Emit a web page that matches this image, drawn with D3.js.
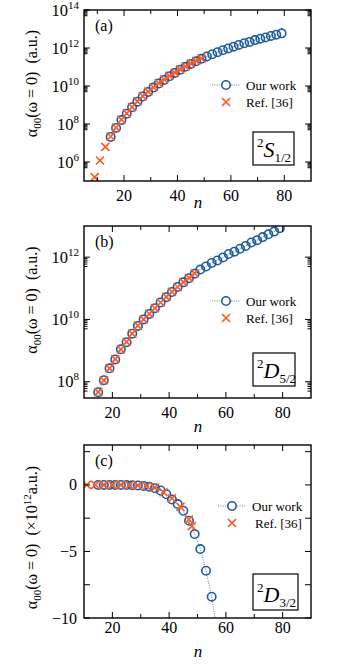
<!DOCTYPE html>
<html>
<head>
<meta charset="utf-8">
<script src="https://cdn.jsdelivr.net/npm/d3@7"></script>
<style>
  body { margin: 0; background: #fff; }
  svg { display: block; }
  svg text { font-family: "Liberation Serif", "Times New Roman", serif; }
</style>
</head>
<body>
<div id="chart"></div>
<script>
// (a) 2S1/2
const nA = [15, 17, 19, 21, 23, 25, 27, 29, 31, 33, 35, 37, 39, 41, 43, 45, 47, 49, 51, 53, 55, 57, 59, 61, 63, 65, 67, 69, 71, 73, 75, 77, 79];
const oursA = [2.1e7, 6.2e7, 1.6e8, 3.5e8, 7.6e8, 1.5e9, 2.8e9, 4.9e9, 8.3e9, 1.35e10, 2.1e10, 3.3e10, 4.9e10, 7.2e10, 1.02e11, 1.45e11, 2.0e11, 2.7e11, 3.6e11, 4.7e11, 6.0e11, 7.6e11, 9.5e11, 1.17e12, 1.45e12, 1.78e12, 2.1e12, 2.6e12, 3.1e12, 3.6e12, 4.3e12, 5.0e12, 5.9e12];
const nRefA = [9, 11, 13, 15, 17, 19, 21, 23, 25, 27, 29, 31, 33, 35, 37, 39, 41, 43, 45, 47, 49];
const refA = [1.6e5, 1.2e6, 6.2e6, 2.2e7, 6.4e7, 1.7e8, 3.6e8, 7.8e8, 1.55e9, 2.9e9, 5.1e9, 8.6e9, 1.4e10, 2.2e10, 3.4e10, 5.1e10, 7.5e10, 1.06e11, 1.5e11, 2.1e11, 2.8e11];

// (b) 2D5/2
const nB = [15, 17, 19, 21, 23, 25, 27, 29, 31, 33, 35, 37, 39, 41, 43, 45, 47, 49, 51, 53, 55, 57, 59, 61, 63, 65, 67, 69, 71, 73, 75, 77, 79];
const oursB = [4.6e7, 1.12e8, 2.7e8, 5.2e8, 1.1e9, 1.86e9, 3.5e9, 6.2e9, 1.0e10, 1.5e10, 2.3e10, 3.5e10, 5.2e10, 7.6e10, 1.1e11, 1.55e11, 2.1e11, 2.95e11, 4.0e11, 5.0e11, 6.5e11, 7.8e11, 9.8e11, 1.26e12, 1.5e12, 1.86e12, 2.3e12, 2.95e12, 3.5e12, 4.4e12, 5.4e12, 6.6e12, 8.5e12];
const nRefB = [15, 17, 19, 21, 23, 25, 27, 29, 31, 33, 35, 37, 39, 41, 43, 45, 47, 49];
const refB = [4.6e7, 1.1e8, 2.7e8, 5.3e8, 1.1e9, 1.9e9, 3.5e9, 6.3e9, 1.0e10, 1.5e10, 2.3e10, 3.5e10, 5.3e10, 7.7e10, 1.1e11, 1.57e11, 2.15e11, 3.0e11];

// (c) 2D3/2, units of 1e12 a.u.
const nC = [15, 17, 19, 21, 23, 25, 27, 29, 31, 33, 35, 37, 39, 41, 43, 45, 47, 49, 51, 53, 55, 57];
const oursC = [0, 0, 0, 0, 0, -0.01, -0.02, -0.04, -0.08, -0.14, -0.25, -0.42, -0.7, -1.1, -1.44, -1.94, -2.69, -3.69, -4.82, -6.45, -8.4, -11.2];
const nRefC = [11, 14, 17, 20, 23, 26, 29, 32, 35, 38, 41, 44, 47, 48];
const refC = [0, 0, 0, 0, 0, -0.01, -0.03, -0.08, -0.2, -0.55, -1.0, -1.65, -2.6, -3.09];

// axes
const xTicks = [10, 20, 30, 40, 50, 60, 70, 80];
const xLabels = [20, 40, 60, 80];
const expA = [6, 8, 10, 12, 14];
const expB = [8, 10, 12];
const yMajorC = [-10, -5, 0];
const yMinorC = [-7.5, -2.5, 2.5];

const W = 349, H = 669;
const blue = "#1c5c9f", red = "#ff5a26";
const svg = d3.select("#chart").append("svg")
  .attr("width", W).attr("height", H)
  .attr("font-family", "Liberation Serif, serif");

const panels = [
  { id: "a", tag: "(a)", top: 10, bottom: 181, xDomain: [5, 90], log: true, yDomain: [1e5, 1e14], exps: expA,
    n: nA, ours: oursA, nRef: nRefA, ref: refA, state: ["S", "1/2"], unit: "(a.u.)",
    legendY: 85, box: [253, 132, 41, 33], xLabelY: 200.5, nY: 208 },
  { id: "b", tag: "(b)", top: 226, bottom: 398, xDomain: [10, 90], log: true, yDomain: [3e7, 1e13], exps: expB,
    n: nB, ours: oursB, nRef: nRefB, ref: refB, state: ["D", "5/2"], unit: "(a.u.)",
    legendY: 301, box: [253, 353, 42, 33], xLabelY: 418, nY: 432 },
  { id: "c", tag: "(c)", top: 445, bottom: 618, xDomain: [10, 90], log: false, yDomain: [-10, 3],
    n: nC, ours: oursC, nRef: nRefC, ref: refC, state: ["D", "3/2"], unit: "c",
    legendY: 506, box: [253, 574, 45, 36], xLabelY: 632.5, nY: 657 }
];

const crossPath = s => `M${-s},${-s}L${s},${s}M${-s},${s}L${s},${-s}`;

panels.forEach(p => {
  const g = svg.append("g");
  const x = d3.scaleLinear().domain(p.xDomain).range([84, 311]);
  const y = (p.log ? d3.scaleLog() : d3.scaleLinear()).domain(p.yDomain).range([p.bottom, p.top]);

  g.append("clipPath").attr("id", "clip-" + p.id)
    .append("rect").attr("x", 84).attr("y", p.top).attr("width", 227).attr("height", p.bottom - p.top);
  const plot = g.append("g").attr("clip-path", `url(#clip-${p.id})`);

  const ours = p.n.map((n, i) => ({ n, v: p.ours[i] }));
  const ref = p.nRef.map((n, i) => ({ n, v: p.ref[i] }));

  plot.append("path")
    .datum(ours)
    .attr("fill", "none")
    .attr("stroke", blue)
    .attr("stroke-width", 0.8)
    .attr("stroke-dasharray", "1,1.4")
    .attr("d", d3.line().x(d => x(d.n)).y(d => y(d.v)));

  plot.append("g").selectAll("circle").data(ours).join("circle")
    .attr("cx", d => x(d.n)).attr("cy", d => y(d.v)).attr("r", 4.2)
    .attr("fill", "none").attr("stroke", blue).attr("stroke-width", 1.6);

  plot.append("g").selectAll("path").data(ref).join("path")
    .attr("transform", d => `translate(${x(d.n)},${y(d.v)})`)
    .attr("d", crossPath(4))
    .attr("stroke", red).attr("stroke-width", 1.7).attr("fill", "none");

  // frame
  g.append("rect").attr("x", 84).attr("y", p.top).attr("width", 227).attr("height", p.bottom - p.top)
    .attr("fill", "none").attr("stroke", "#000").attr("stroke-width", 1.4);

  const tk = g.append("g").attr("stroke", "#000").attr("stroke-width", 1);
  xTicks.filter(t => t > p.xDomain[0] && t < p.xDomain[1]).forEach(t => {
    const len = t % 20 === 0 ? 6 : 4;
    tk.append("line").attr("x1", x(t)).attr("x2", x(t)).attr("y1", p.bottom).attr("y2", p.bottom - len);
    tk.append("line").attr("x1", x(t)).attr("x2", x(t)).attr("y1", p.top).attr("y2", p.top + len);
  });
  const yTick = (v, len) => {
    const yy = y(v);
    if (yy < p.top - 0.5 || yy > p.bottom + 0.5) return;
    tk.append("line").attr("x1", 84).attr("x2", 84 + len).attr("y1", yy).attr("y2", yy);
    tk.append("line").attr("x1", 311).attr("x2", 311 - len).attr("y1", yy).attr("y2", yy);
  };

  g.append("g").selectAll("text").data(xLabels).join("text")
    .attr("x", d => x(d)).attr("y", p.xLabelY)
    .attr("text-anchor", "middle").attr("font-size", 16).text(d => d);

  g.append("text").attr("x", 198).attr("y", p.nY).attr("text-anchor", "middle")
    .attr("font-size", 17).attr("font-style", "italic").text("n");

  if (p.log) {
    p.exps.forEach(e => {
      yTick(Math.pow(10, e), 6);
      [5, 6, 7, 8, 9].forEach(m => yTick(m * Math.pow(10, e - 1), 3.5));
      const yy = y(Math.pow(10, e));
      if (yy < p.top - 1 || yy > p.bottom + 1) return;
      const t = g.append("text").attr("x", 79).attr("y", yy + 5.5)
        .attr("text-anchor", "end").attr("font-size", 16.5);
      t.append("tspan").text("10");
      t.append("tspan").attr("dy", -7).attr("font-size", 11).text(e);
    });
  } else {
    yMajorC.forEach(v => yTick(v, 6));
    yMinorC.forEach(v => yTick(v, 6));
    g.append("g").selectAll("text").data(yMajorC).join("text")
      .attr("x", 77).attr("y", d => y(d) + 5.5)
      .attr("text-anchor", "end").attr("font-size", 16)
      .text(d => d < 0 ? "\u2212" + Math.abs(d) : d);
  }

  // y title
  const cy = (p.top + p.bottom) / 2 - (p.log ? 12 : -6);
  const yt = g.append("text").attr("transform", `translate(37,${cy}) rotate(-90)`)
    .attr("text-anchor", "middle").attr("font-size", 16);
  yt.append("tspan").text("\u03b1");
  yt.append("tspan").attr("dy", 4).attr("font-size", 11).text("00");
  yt.append("tspan").attr("dy", -4).text("(\u03c9\u00a0=\u00a00)\u00a0\u00a0(");
  if (p.unit === "c") {
    yt.append("tspan").text("\u00d710");
    yt.append("tspan").attr("dy", -6).attr("font-size", 11).text("12");
    yt.append("tspan").attr("dy", 6).text("a.u.)");
  } else {
    yt.append("tspan").text("a.u.)");
  }

  // panel tag
  g.append("text").attr("x", 95).attr("y", p.top + 21).attr("font-size", 16).text(p.tag);

  // legend
  const lg = g.append("g");
  const ly = p.legendY, lx = p.id === "c" ? 232 : 226;
  lg.append("line").attr("x1", lx - 14).attr("x2", lx + 14).attr("y1", ly).attr("y2", ly)
    .attr("stroke", blue).attr("stroke-width", 0.8).attr("stroke-dasharray", "1,1.4");
  lg.append("circle").attr("cx", lx).attr("cy", ly).attr("r", 4.2)
    .attr("fill", "#fff").attr("stroke", blue).attr("stroke-width", 1.6);
  lg.append("text").attr("x", lx + 20).attr("y", ly + 4.5).attr("font-size", 13).text("Our work");
  lg.append("path").attr("transform", `translate(${lx},${ly + 17})`).attr("d", crossPath(4))
    .attr("stroke", red).attr("stroke-width", 1.7);
  lg.append("text").attr("x", lx + (p.id === "c" ? 23 : 20)).attr("y", ly + 21.5).attr("font-size", 13).text("Ref. [36]");

  // state box
  const [bx, by, bw, bh] = p.box;
  g.append("rect").attr("x", bx).attr("y", by).attr("width", bw).attr("height", bh)
    .attr("fill", "#fff").attr("stroke", "#000").attr("stroke-width", 1.2);
  const st = g.append("text").attr("x", bx + 4).attr("y", by + bh - 8).attr("font-size", 22);
  st.append("tspan").attr("font-size", 13).attr("dy", -10).text("2");
  st.append("tspan").attr("font-style", "italic").attr("dy", 10).text(p.state[0]);
  st.append("tspan").attr("font-size", 13).attr("dy", 5).text(p.state[1]);
});
</script>
</body>
</html>
